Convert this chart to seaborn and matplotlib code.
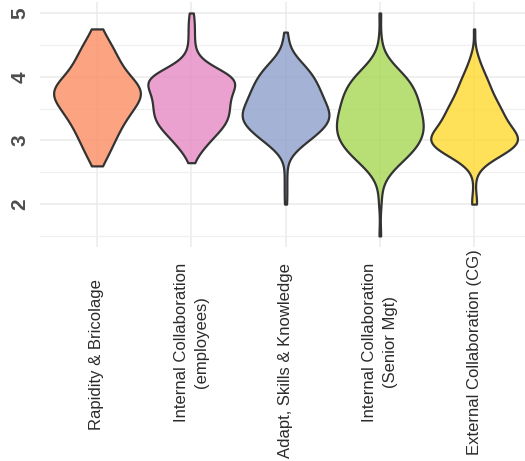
import numpy as np
import pandas as pd
import matplotlib
matplotlib.use("Agg")
import matplotlib.pyplot as plt
import matplotlib.transforms as mtransforms
import seaborn as sns

categories = [
    "Rapidity & Bricolage",
    "Internal Collaboration\n(employees)",
    "Adapt, Skills & Knowledge",
    "Internal Collaboration\n(Senior Mgt)",
    "External Collaboration (CG)",
]
palette = ["#FC8D62", "#E78AC3", "#8DA0CB", "#A6D854", "#FFD92F"]

# score values and respondent counts per construct
rap_values = [2.6, 2.7, 2.8, 2.9, 3.0, 3.1, 3.2, 3.3, 3.4, 3.5, 3.6, 3.7, 3.8, 3.9, 4.0, 4.1, 4.2, 4.3, 4.4, 4.5, 4.6, 4.75]
rap_counts = [2, 3, 4, 5, 6, 7, 8, 9, 11, 12, 14, 16, 16, 14, 11, 9, 8, 7, 6, 5, 4, 3]

emp_values = [2.65, 2.8, 2.9, 3.0, 3.1, 3.2, 3.3, 3.4, 3.5, 3.6, 3.7, 3.8, 3.9, 4.0, 4.1, 4.2, 4.3, 4.4, 4.5, 4.6, 4.7, 4.8, 4.9, 5.0]
emp_counts = [1, 3, 4, 6, 8, 10, 12, 12, 12, 12, 12, 13, 15, 17, 9, 4, 2, 1, 1, 1, 1, 1, 1, 1]

ada_values = [2.0, 2.2, 2.4, 2.6, 2.8, 2.9, 3.0, 3.1, 3.2, 3.3, 3.4, 3.5, 3.6, 3.7, 3.8, 3.9, 4.0, 4.1, 4.2, 4.3, 4.4, 4.5, 4.6, 4.7]
ada_counts = [1, 1, 1, 1, 3, 5, 9, 12, 15, 17, 18, 16, 15, 14, 13, 12, 11, 9, 7, 4, 2, 1, 1, 1]

sen_values = [1.5, 2.0, 2.2, 2.4, 2.5, 2.6, 2.7, 2.8, 2.9, 3.0, 3.1, 3.2, 3.3, 3.4, 3.5, 3.6, 3.7, 3.8, 3.9, 4.0, 4.1, 4.2, 4.3, 4.4, 4.6, 5.0]
sen_counts = [1, 1, 1, 2, 3, 5, 8, 10, 12, 13, 14, 14, 14, 13, 13, 12, 12, 11, 10, 9, 6, 4, 2, 1, 1, 1]

ext_values = [2.0, 2.1, 2.3, 2.5, 2.6, 2.7, 2.8, 2.9, 3.0, 3.1, 3.2, 3.3, 3.4, 3.5, 3.6, 3.7, 3.8, 3.9, 4.0, 4.1, 4.2, 4.3, 4.4, 4.75]
ext_counts = [3, 1, 1, 1, 3, 8, 15, 21, 24, 21, 17, 15, 14, 13, 11, 9, 8, 7, 6, 4, 3, 2, 1, 1]

yticks = [2, 3, 4, 5]

series = [
    (rap_values, rap_counts),
    (emp_values, emp_counts),
    (ada_values, ada_counts),
    (sen_values, sen_counts),
    (ext_values, ext_counts),
]
frames = []
for cat, (vals, cnts) in zip(categories, series):
    frames.append(pd.DataFrame({"construct": cat, "score": np.repeat(vals, cnts)}))
df = pd.concat(frames, ignore_index=True)

fig = plt.figure(figsize=(5.25, 4.61), dpi=100)
ax = fig.add_axes([0.077, 0.464, 0.923, 0.532])

sns.violinplot(
    data=df, x="construct", y="score", hue="construct", order=categories,
    hue_order=categories, palette=palette, legend=False, inner=None, cut=0,
    width=0.92, density_norm="area", bw_adjust=0.9, linewidth=1.6,
    linecolor="#333333", saturation=1, ax=ax,
)
for coll in ax.collections:
    fc = coll.get_facecolor()
    if len(fc):
        r, g, b, _ = fc[0]
        coll.set_facecolor((r, g, b, 0.8))
    coll.set_zorder(3)

ax.set_ylim(1.325, 5.175)
ax.set_xlim(-0.6, 4.54)
ax.set_yticks(yticks)
ax.set_yticks([1.5, 2.5, 3.5, 4.5], minor=True)
ax.grid(True, which="major", color="#EBEBEB", linewidth=1.1, zorder=0)
ax.grid(True, which="minor", axis="y", color="#F0F0F0", linewidth=0.9, zorder=0)
ax.set_axisbelow(True)
for s in ax.spines.values():
    s.set_visible(False)
ax.set_xlabel("")
ax.set_ylabel("")
ax.tick_params(axis="both", which="both", length=0)
ax.tick_params(axis="y", pad=8)
ax.tick_params(axis="x", pad=0)

for lab in ax.get_yticklabels():
    lab.set_rotation(90)
    lab.set_fontweight("bold")
    lab.set_fontsize(15)
    lab.set_color("#4D4D4D")
    lab.set_va("center")
    lab.set_family("Liberation Sans")

centers = [354, 342, 360, 342, 352]
for lab, c in zip(ax.get_xticklabels(), centers):
    lab.set_rotation(90)
    lab.set_ha("center")
    lab.set_va("center")
    lab.set_multialignment("center")
    lab.set_fontsize(12)
    lab.set_family("Liberation Sans")
    lab.set_color("#2B2B2B")
    lab.set_linespacing(1.45)
    off = mtransforms.ScaledTranslation(0, -(c - 247) / 100.0, fig.dpi_scale_trans)
    lab.set_transform(lab.get_transform() + off)

fig.savefig("out.png", dpi=100, facecolor="white")
